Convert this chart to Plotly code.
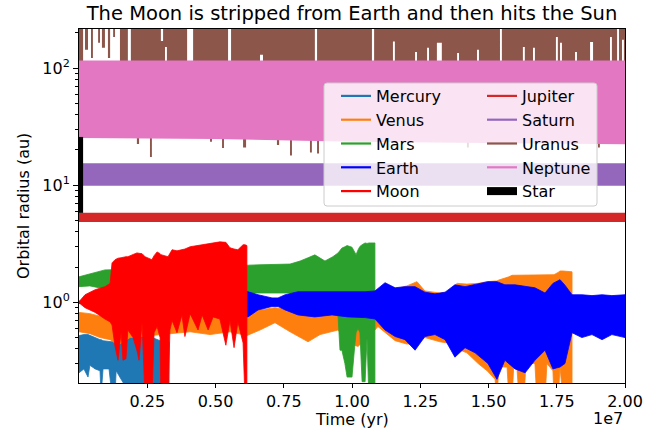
import plotly.graph_objects as go

# ---------------- data (time in units of 1e7 yr, radius in au) ----------------
# envelopes (lower / upper) of each orbital-radius band
MERC_T  = [0.000, 0.018, 0.033, 0.040, 0.059, 0.077, 0.081, 0.088, 0.110, 0.121, 0.132, 0.136, 0.165, 0.180, 0.205, 0.223, 0.250, 0.297, 0.330]
MERC_LO = [0.25, 0.27, 0.23, 0.29, 0.27, 0.26, 0.16, 0.27, 0.27, 0.16, 0.16, 0.26, 0.20, 0.15, 0.15, 0.15, 0.15, 0.15, 0.15]
MERC_HI = [0.52, 0.53, 0.53, 0.52, 0.50, 0.48, 0.48, 0.47, 0.46, 0.46, 0.47, 0.48, 0.53, 0.56, 0.58, 0.55, 0.52, 0.47, 0.46]

VEN_T  = [0.000, 0.040, 0.077, 0.114, 0.143, 0.187, 0.260, 0.407, 0.480, 0.553, 0.615, 0.663, 0.718, 0.773, 0.839, 0.883, 0.949, 0.993, 1.022, 1.066, 1.095, 1.139, 1.158, 1.201, 1.238, 1.267, 1.322, 1.348, 1.385, 1.421, 1.462, 1.495, 1.524, 1.531, 1.538, 1.568, 1.575, 1.586, 1.593, 1.604, 1.612, 1.630, 1.637, 1.670, 1.677, 1.707, 1.714, 1.736, 1.740, 1.755, 1.762, 1.773, 1.806]
VEN_LO = [0.56, 0.54, 0.50, 0.48, 0.43, 0.50, 0.52, 0.56, 0.53, 0.56, 0.52, 0.58, 0.67, 0.56, 0.46, 0.53, 0.58, 0.44, 0.42, 0.52, 0.62, 0.51, 0.47, 0.44, 0.44, 0.50, 0.46, 0.45, 0.40, 0.37, 0.30, 0.26, 0.22, 0.15, 0.28, 0.28, 0.15, 0.15, 0.30, 0.28, 0.15, 0.15, 0.30, 0.30, 0.15, 0.15, 0.30, 0.26, 0.15, 0.15, 0.28, 0.15, 0.15]
VEN_HI = [0.82, 0.80, 0.76, 0.74, 0.72, 0.75, 0.78, 0.80, 0.80, 0.82, 0.85, 0.86, 0.90, 0.86, 0.84, 0.84, 0.86, 0.88, 0.90, 1.00, 1.20, 1.30, 1.30, 1.38, 1.50, 1.25, 1.20, 1.22, 1.45, 1.43, 1.45, 1.50, 1.52, 1.52, 1.55, 1.62, 1.65, 1.70, 1.70, 1.70, 1.72, 1.72, 1.72, 1.72, 1.72, 1.72, 1.72, 1.72, 1.72, 1.80, 1.85, 1.85, 1.82]

MARS_T  = [0.000, 0.040, 0.095, 0.132, 0.615, 0.663, 0.773, 0.810, 0.839, 0.864, 0.901, 0.930, 0.949, 0.956, 0.963, 0.974, 0.982, 1.000, 1.011, 1.015, 1.022, 1.029, 1.037, 1.048, 1.055, 1.062, 1.077, 1.084]
MARS_LO = [1.36, 1.38, 1.30, 1.30, 1.20, 1.20, 1.20, 1.20, 1.20, 1.20, 1.20, 1.20, 0.75, 0.39, 0.39, 0.30, 0.23, 0.23, 0.45, 0.55, 0.60, 0.55, 0.21, 0.21, 0.50, 0.15, 0.15, 0.15]
MARS_HI = [1.65, 1.75, 1.89, 1.90, 2.09, 2.09, 2.12, 2.25, 2.40, 2.54, 2.25, 2.45, 2.64, 2.75, 2.90, 2.98, 3.05, 2.95, 2.70, 2.55, 2.80, 3.00, 3.10, 3.21, 3.18, 3.21, 3.21, 3.21]

EARTH_T  = [0.000, 0.100, 0.300, 0.600, 0.619, 0.656, 0.707, 0.729, 0.755, 0.802, 0.864, 0.927, 0.985, 1.048, 1.084, 1.121, 1.158, 1.194, 1.231, 1.267, 1.304, 1.341, 1.377, 1.414, 1.451, 1.498, 1.531, 1.560, 1.597, 1.634, 1.670, 1.707, 1.736, 1.762, 1.780, 1.806, 1.842, 1.879, 1.916, 1.952, 2.000]
EARTH_LO = [0.98, 0.90, 0.82, 0.76, 0.75, 0.86, 0.92, 0.92, 0.86, 0.78, 0.75, 0.78, 0.75, 0.74, 0.72, 0.58, 0.51, 0.48, 0.39, 0.51, 0.53, 0.48, 0.34, 0.41, 0.37, 0.30, 0.22, 0.32, 0.27, 0.25, 0.32, 0.39, 0.27, 0.28, 0.30, 0.55, 0.50, 0.53, 0.48, 0.53, 0.50]
EARTH_HI = [1.02, 1.10, 1.18, 1.22, 1.23, 1.16, 1.09, 1.09, 1.16, 1.23, 1.23, 1.23, 1.23, 1.23, 1.25, 1.47, 1.33, 1.36, 1.36, 1.22, 1.18, 1.22, 1.41, 1.36, 1.42, 1.50, 1.50, 1.41, 1.41, 1.36, 1.33, 1.20, 1.45, 1.56, 1.40, 1.16, 1.16, 1.14, 1.16, 1.14, 1.16]

MOON_T  = [0.000, 0.022, 0.059, 0.095, 0.114, 0.121, 0.132, 0.143, 0.154, 0.161, 0.172, 0.179, 0.198, 0.212, 0.220, 0.231, 0.242, 0.267, 0.275, 0.286, 0.297, 0.300, 0.326, 0.333, 0.341, 0.359, 0.377, 0.388, 0.407, 0.436, 0.451, 0.473, 0.491, 0.516, 0.538, 0.553, 0.568, 0.582, 0.601, 0.608, 0.615]
MOON_LO = [0.99, 0.90, 0.82, 0.72, 0.68, 0.64, 0.42, 0.32, 0.55, 0.32, 0.33, 0.58, 0.50, 0.39, 0.32, 0.67, 0.15, 0.15, 0.55, 0.62, 0.50, 0.15, 0.15, 0.58, 0.70, 0.55, 0.78, 0.51, 0.80, 0.58, 0.78, 0.58, 0.75, 0.72, 0.43, 0.70, 0.41, 0.68, 0.45, 0.15, 0.15]
MOON_HI = [1.01, 1.16, 1.28, 1.36, 1.45, 2.17, 2.31, 2.38, 2.40, 2.43, 2.45, 2.45, 2.55, 2.64, 2.62, 2.60, 2.45, 2.31, 2.50, 2.69, 2.60, 2.55, 2.45, 2.60, 2.81, 2.75, 2.81, 2.85, 2.98, 3.05, 3.10, 3.15, 3.21, 3.28, 3.25, 2.92, 2.85, 2.81, 3.10, 3.10, 3.05]

JUP_T  = [0.0, 2.0]
JUP_LO = [4.85, 4.85]
JUP_HI = [5.80, 5.80]

SAT_T  = [0.0, 2.0]
SAT_LO = [9.9, 9.9]
SAT_HI = [15.4, 15.4]

# Uranus: piecewise-constant envelope segments (start time of each segment)
URA_T  = [0.000, 0.015, 0.022, 0.033, 0.044, 0.051, 0.070, 0.077, 0.084, 0.095, 0.106, 0.114, 0.125, 0.132, 0.150, 0.179, 0.190, 0.212, 0.220, 0.260, 0.267, 0.300, 0.308, 0.315, 0.322, 0.396, 0.418, 0.480, 0.487, 0.524, 0.531, 0.546, 0.557, 0.601, 0.612, 0.663, 0.674, 0.725, 0.733, 0.773, 0.780, 0.846, 0.853, 0.864, 0.872, 0.879, 1.073, 1.081, 1.150, 1.157, 1.231, 1.238, 1.275, 1.282, 1.311, 1.329, 1.385, 1.392, 1.421, 1.428, 1.458, 1.465, 1.542, 1.549, 1.626, 1.633, 1.663, 1.670, 1.747, 1.754, 1.762, 1.769, 1.817, 1.824, 1.872, 1.883, 1.901, 1.908, 1.945, 1.952, 1.971, 1.978, 1.989, 1.996]
URA_LO = [40, 60, 143, 60, 122, 60, 164, 60, 149, 60, 122, 60, 184, 60, 40, 60, 40, 22.5, 40, 17.4, 40, 40, 40, 151, 40, 60, 40, 23.5, 40, 20.8, 40, 60, 40, 21, 40, 130, 40, 22, 40, 17.9, 40, 19, 40, 60, 18.6, 40, 60, 40, 168, 40, 137, 40, 149, 40, 164, 40, 134, 40, 21, 40, 143, 40, 60, 40, 151, 40, 149, 40, 184, 40, 164, 40, 137, 40, 167, 40, 21, 40, 184, 40, 60, 40, 174, 40]
URA_HI = [500, 60, 500, 60, 500, 60, 500, 60, 500, 60, 500, 60, 500, 60, 500, 60, 500, 500, 500, 500, 500, 170, 500, 500, 500, 60, 500, 500, 500, 500, 500, 60, 500, 500, 500, 500, 500, 500, 500, 500, 500, 500, 500, 60, 500, 500, 60, 500, 500, 500, 500, 500, 500, 500, 500, 500, 500, 500, 500, 500, 500, 500, 60, 500, 500, 500, 500, 500, 500, 500, 500, 500, 500, 500, 500, 500, 500, 500, 500, 500, 60, 500, 500, 500]
URA_END = 2.0

NEP_T  = [0.0, 0.5, 1.0, 1.5, 2.0]
NEP_LO = [25.3, 24.8, 23.5, 22.8, 22.3]
NEP_HI = [116, 116, 116, 116, 116]

STAR_T  = [0.0, 0.015]
STAR_LO = [5.8, 5.8]
STAR_HI = [25.8, 25.8]

NAMES = ["Mercury", "Venus", "Mars", "Earth", "Moon", "Jupiter", "Saturn", "Uranus", "Neptune", "Star"]
COLORS = ["#1f77b4", "#ff7f0e", "#2ca02c", "#0000ff", "#ff0000", "#d62728", "#9467bd", "#8c564b", "#e377c2", "#000000"]

X_TICKS = [0.25, 0.50, 0.75, 1.00, 1.25, 1.50, 1.75, 2.00]
X_TICKTEXT = ["0.25", "0.50", "0.75", "1.00", "1.25", "1.50", "1.75", "2.00"]
Y_TICKS = [1, 10, 100]
Y_TICKTEXT = ["10<sup>0</sup>", "10<sup>1</sup>", "10<sup>2</sup>"]
Y_MINOR = [0.2, 0.3, 0.4, 0.5, 0.6, 0.7, 0.8, 0.9, 2, 3, 4, 5, 6, 7, 8, 9, 20, 30, 40, 50, 60, 70, 80, 90, 200]
SCALE = 1e7
FONT = "DejaVu Sans"
FS = 16        # label font size
FS_TITLE = 19.5

W, H = 664, 437
PL, PR, PT, PB = 79, 625, 29, 383   # plot area in window pixels
PW, PH = PR - PL, PB - PT


def band(t, lo, hi):
    xs = [v * SCALE for v in t] + [v * SCALE for v in reversed(t)]
    ys = list(hi) + list(reversed(lo))
    return xs, ys


def steps(t, lo, hi, end):
    tt, ll, hh = [], [], []
    for i in range(len(t)):
        t1 = t[i + 1] if i + 1 < len(t) else end
        tt += [t[i], t1]
        ll += [lo[i], lo[i]]
        hh += [hi[i], hi[i]]
    return tt, ll, hh


def px(x):
    return (x - PL) / PW


def py(y):
    return (PB - y) / PH


fig = go.Figure()

series = [
    (MERC_T, MERC_LO, MERC_HI),
    (VEN_T, VEN_LO, VEN_HI),
    (MARS_T, MARS_LO, MARS_HI),
    (EARTH_T, EARTH_LO, EARTH_HI),
    (MOON_T, MOON_LO, MOON_HI),
    (JUP_T, JUP_LO, JUP_HI),
    (SAT_T, SAT_LO, SAT_HI),
    steps(URA_T, URA_LO, URA_HI, URA_END),
    (NEP_T, NEP_LO, NEP_HI),
    (STAR_T, STAR_LO, STAR_HI),
]

for name, col, (t, lo, hi) in zip(NAMES, COLORS, series):
    xs, ys = band(t, lo, hi)
    lw = 0 if name in ("Uranus", "Jupiter", "Saturn", "Neptune", "Star") else 0.8
    fig.add_trace(go.Scatter(
        x=xs, y=ys, mode="lines", fill="toself", fillcolor=col,
        line=dict(color=col, width=lw), showlegend=False, hoverinfo="skip", name=name))

# legend entries (two columns)
for i, (name, col) in enumerate(zip(NAMES, COLORS)):
    fig.add_trace(go.Scatter(
        x=[None], y=[None], mode="lines", name=name,
        line=dict(color=col, width=8 if name == "Star" else 2.2),
        legend="legend" if i < 5 else "legend2", legendgroup=name))

# legend frame
x0 = px(324); x1 = px(597)
y0 = py(206); y1 = py(83)
rx = 3 / PW; ry = 3 / PH
path = (f"M {x0+rx},{y1} L {x1-rx},{y1} Q {x1},{y1} {x1},{y1-ry} L {x1},{y0+ry} Q {x1},{y0} {x1-rx},{y0} "
        f"L {x0+rx},{y0} Q {x0},{y0} {x0},{y0+ry} L {x0},{y1-ry} Q {x0},{y1} {x0+rx},{y1} Z")
fig.add_shape(type="path", path=path, xref="paper", yref="paper", layer="above",
              fillcolor="rgba(255,255,255,0.8)", line=dict(color="#cccccc", width=1))

legend_common = dict(bgcolor="rgba(0,0,0,0)", borderwidth=0, font=dict(family=FONT, size=FS, color="black"),
                     yanchor="top", xanchor="left", tracegroupgap=0, itemclick=False)
fig.update_layout(
    legend=dict(x=px(336), y=py(79), **legend_common),
    legend2=dict(x=px(482), y=py(79), **legend_common),
)

fig.update_layout(
    width=W, height=H,
    margin=dict(l=PL, r=W - PR, t=PT, b=H - PB),
    paper_bgcolor="white", plot_bgcolor="white",
    font=dict(family=FONT, size=FS, color="black"),
    title=dict(text="The Moon is stripped from Earth and then hits the Sun",
               x=0.5, xref="paper", y=1 - 13 / H, yref="container", yanchor="middle",
               font=dict(family=FONT, size=FS_TITLE, color="black")),
    xaxis=dict(range=[0, 2e7], tickmode="array", tickvals=[v * SCALE for v in X_TICKS], ticktext=X_TICKTEXT,
               ticks="outside", ticklen=4, tickwidth=1, tickcolor="black",
               showline=True, linecolor="black", linewidth=1, mirror=True, showgrid=False, zeroline=False,
               tickfont=dict(family=FONT, size=FS)),
    yaxis=dict(type="log", range=[-0.689, 2.333], tickmode="array", tickvals=Y_TICKS, ticktext=Y_TICKTEXT,
               ticks="outside", ticklen=5, tickwidth=1, tickcolor="black",
               minor=dict(tickmode="array", tickvals=Y_MINOR, ticks="outside", ticklen=3, tickcolor="black", showgrid=False),
               showline=True, linecolor="black", linewidth=1, mirror=True, showgrid=False, zeroline=False,
               tickfont=dict(family=FONT, size=FS)),
    annotations=[
        dict(text="Time (yr)", xref="paper", yref="paper", x=0.5, y=py(409),
             xanchor="center", yanchor="top", showarrow=False, borderpad=0, font=dict(family=FONT, size=FS)),
        dict(text="1e7", xref="paper", yref="paper", x=1.0, y=py(418),
             xanchor="right", yanchor="middle", showarrow=False, font=dict(family=FONT, size=FS)),
        dict(text="Orbital radius (au)", xref="paper", yref="paper", x=px(23), y=0.5,
             xanchor="center", yanchor="middle", textangle=-90, showarrow=False, font=dict(family=FONT, size=FS)),
    ],
)

# remove the default page margin so the figure sits at the window's top-left corner
fig.write_html("out.html", post_script="document.body.style.margin='0';",
               config={"displayModeBar": False})
